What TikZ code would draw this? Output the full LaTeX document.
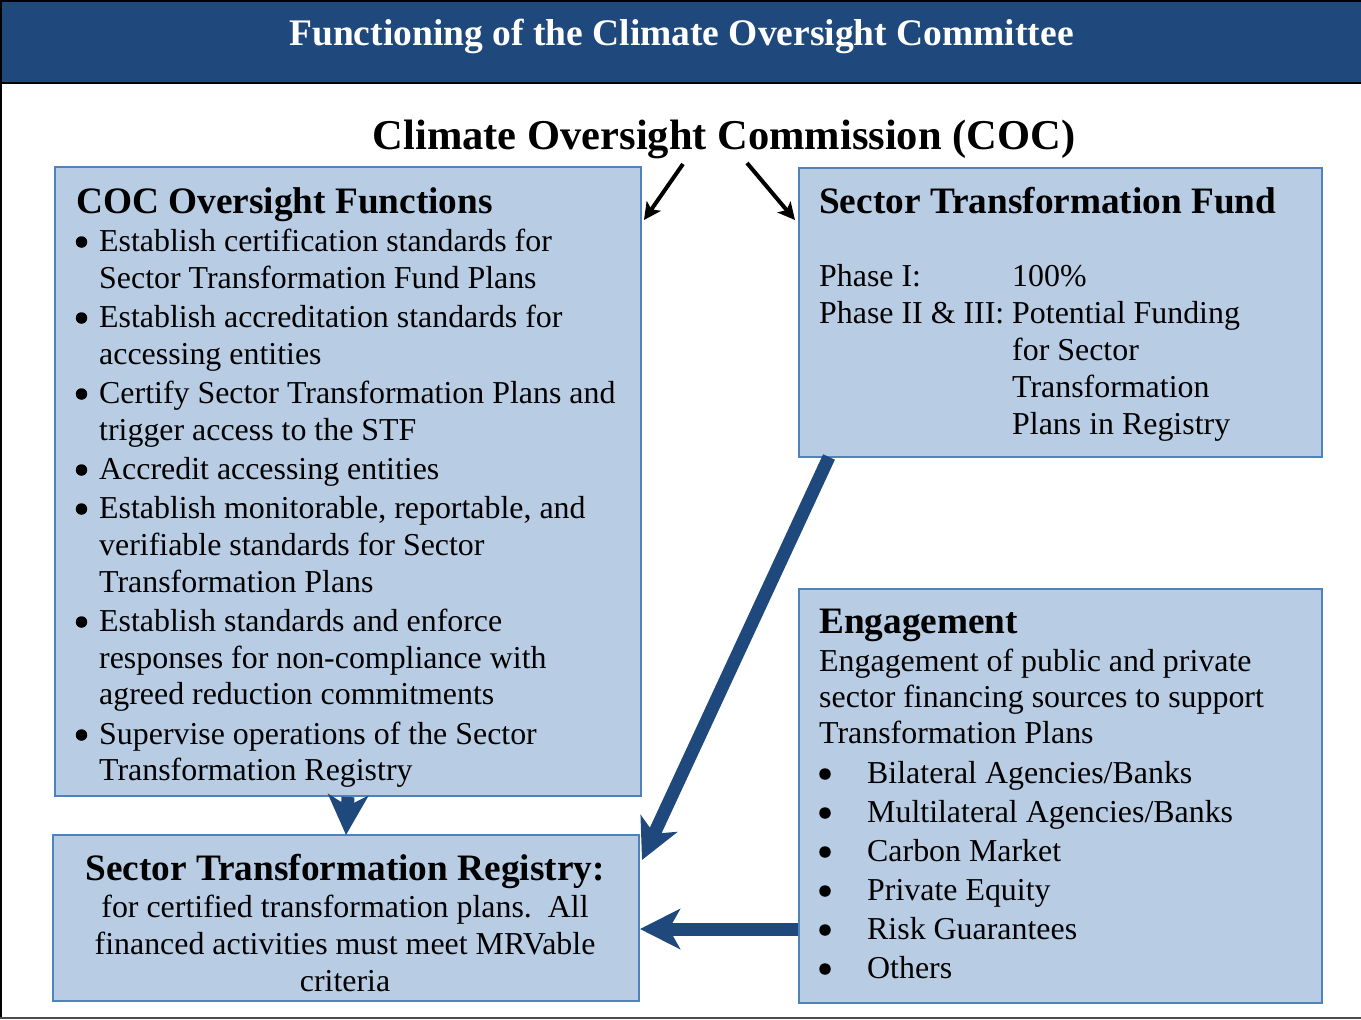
\documentclass[tikz,border=0pt]{standalone}
\usepackage{fontspec}
\setmainfont{Liberation Serif}
\usetikzlibrary{arrows.meta}
\definecolor{hdrblue}{HTML}{1F497D}
\definecolor{boxfill}{HTML}{B8CCE4}
\definecolor{boxline}{HTML}{4F81BD}
\definecolor{arrblue}{HTML}{1F497D}
\tikzset{
  box/.style={draw=boxline, fill=boxfill, line width=2pt, inner sep=0pt, anchor=north west},
  body/.style={inner sep=0pt, anchor=base west, font=\fontsize{31.9}{37}\selectfont},
  bodyc/.style={inner sep=0pt, anchor=base, font=\fontsize{31.9}{37}\selectfont},
  head/.style={inner sep=0pt, anchor=base west, font=\fontsize{37.3}{44}\selectfont\bfseries},
  dot/.style={circle, fill=black, inner sep=0pt, minimum size=11.5pt},
  bigarrow/.style={draw=arrblue, line width=13pt, -{Stealth[length=40pt, width=40pt, inset=11pt, fill=arrblue]}},
  blackarrow/.style={draw=black, line width=4pt, -{Stealth[length=17pt, width=17pt, inset=4pt]}}
}
\begin{document}
\begin{tikzpicture}[x=1pt,y=-1pt]
\useasboundingbox (0,0) rectangle (1361,1020);
% frame and header
\fill[hdrblue] (0,0) rectangle (1361,84);
\draw[black, line width=2pt] (0,1) -- (1361,1);
\draw[black, line width=2pt] (0,83) -- (1361,83);
\draw[black, line width=2pt] (1,0) -- (1,1018);
\draw[black!70, line width=2pt] (0,1018) -- (1361,1018);
\node[inner sep=0pt, anchor=base, text=white, font=\fontsize{37.5}{44}\selectfont\bfseries] (hdr) at (681.5,45) {Functioning of the Climate Oversight Committee};
\node[inner sep=0pt, anchor=base, font=\fontsize{42.5}{50}\selectfont\bfseries] (coc) at (724,149) {Climate Oversight Commission (COC)};

% boxes
\node[box, minimum width=586pt, minimum height=629pt] (cocbox) at (54,166) {};
\node[box, minimum width=523pt, minimum height=289pt] (stf) at (798,167) {};
\node[box, minimum width=523pt, minimum height=414pt] (eng) at (798,588) {};
\node[box, minimum width=586pt, minimum height=166pt] (reg) at (52,834) {};

% COC oversight functions
\node[head] (cochead) at (76,213) {COC Oversight Functions};
\foreach \t/\y [count=\i] in {
  {Establish certification standards for}/251,
  {Sector Transformation Fund Plans}/288,
  {Establish accreditation standards for}/327,
  {accessing entities}/364,
  {Certify Sector Transformation Plans and}/403,
  {trigger access to the STF}/440,
  {Accredit accessing entities}/479,
  {Establish monitorable, reportable, and}/518,
  {verifiable standards for Sector}/555,
  {Transformation Plans}/592,
  {Establish standards and enforce}/631,
  {responses for non-compliance with}/668,
  {agreed reduction commitments}/704,
  {Supervise operations of the Sector}/744,
  {Transformation Registry}/780}
  {\node[body] (cocl\i) at (99,\y) {\t};}
\foreach \y [count=\i] in {251,327,403,479,518,631,744}
  {\node[dot] (cocb\i) at (81.5,\y-9) {};}

% Sector Transformation Fund
\node[head] (stfhead) at (819,213) {Sector Transformation Fund};
\node[body] (ph1) at (819,286) {Phase I:};
\node[body] (ph1v) at (1012,286) {100\%};
\node[body] (ph2) at (819,323) {Phase II \& III:};
\node[body] (ph2a) at (1012,323) {Potential Funding};
\node[body] (ph2b) at (1012,360) {for Sector};
\node[body] (ph2c) at (1012,397) {Transformation};
\node[body] (ph2d) at (1012,434) {Plans in Registry};

% Engagement
\node[head] (enghead) at (819,633) {Engagement};
\node[body] (engl1) at (819,671) {Engagement of public and private};
\node[body] (engl2) at (819,707) {sector financing sources to support};
\node[body] (engl3) at (819,743) {Transformation Plans};
\foreach \t/\y [count=\i] in {
  {Bilateral Agencies/Banks}/783,
  {Multilateral Agencies/Banks}/822,
  {Carbon Market}/861,
  {Private Equity}/900,
  {Risk Guarantees}/939,
  {Others}/978}
  {\node[dot] (engb\i) at (825,\y-9) {};
   \node[body] (engi\i) at (867,\y) {\t};}

% Registry
\node[inner sep=0pt, anchor=base, font=\fontsize{37.3}{44}\selectfont\bfseries] (reghead) at (345,880) {Sector Transformation Registry:};
\node[bodyc] (regl1) at (345,917) {for certified transformation plans.\ \ All};
\node[bodyc] (regl2) at (345,954) {financed activities must meet MRVable};
\node[bodyc] (regl3) at (345,991) {criteria};

% arrows
\coordinate (a1s) at (683,164);
\coordinate (a1e) at (644,220);
\coordinate (a2s) at (747,163);
\coordinate (a2e) at (795,220);
\draw[blackarrow] (a1s) -- (a1e);
\draw[blackarrow] (a2s) -- (a2e);

\coordinate (dgs) at (829,457);
\coordinate (dge) at (642,860);
\draw[bigarrow] (dgs) -- (dge);
\draw[bigarrow] (cocbox.south) -- ([yshift=-1pt]reg.north);
\draw[bigarrow] ([yshift=-11pt]eng.west |- reg.east) -- ([yshift=-11pt]reg.east);
\end{tikzpicture}
\end{document}
